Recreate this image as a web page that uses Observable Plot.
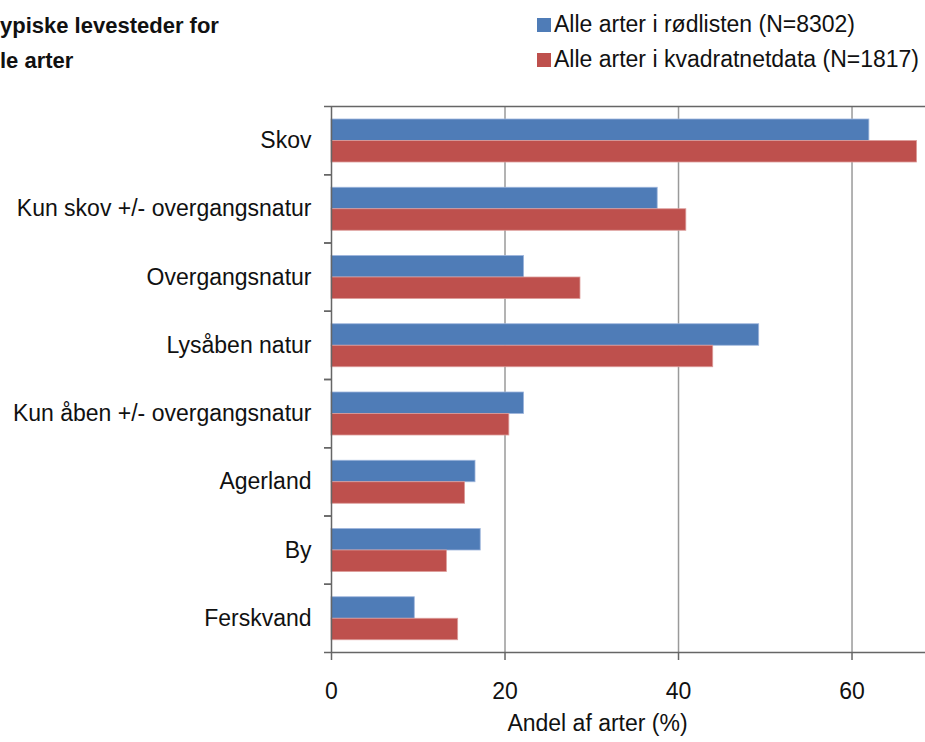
<!DOCTYPE html>
<html>
<head>
<meta charset="utf-8">
<script src="https://cdn.jsdelivr.net/npm/d3@7"></script>
<script src="https://cdn.jsdelivr.net/npm/@observablehq/plot@0.6"></script>
<style>
  html, body { margin: 0; padding: 0; background: #fff; overflow: hidden; }
  body { width: 925px; height: 742px; position: relative; font-family: "Liberation Sans", Arial, sans-serif; }
  #title { position: absolute; left: 0; top: 8px; font-weight: bold; font-size: 22px; line-height: 35px; color: #111; }
  #legend { position: absolute; left: 537px; top: 7px; font-size: 23px; line-height: 35px; color: #111; }
  .li { display: flex; align-items: center; white-space: nowrap; }
  .sw { width: 14px; height: 14px; margin-right: 3px; display: inline-block; }
  #chart { position: absolute; left: 0; top: 0; }
</style>
</head>
<body>
<div id="chart"></div>
<div id="title">ypiske levesteder for<br>le arter</div>
<div id="legend"></div>
<script>
const categories = ["Skov", "Kun skov +/- overgangsnatur", "Overgangsnatur", "Lysåben natur", "Kun åben +/- overgangsnatur", "Agerland", "By", "Ferskvand"];
const seriesNames = ["Alle arter i rødlisten (N=8302)", "Alle arter i kvadratnetdata (N=1817)"];
const roedlisten = [62.0, 37.6, 22.2, 49.3, 22.2, 16.6, 17.2, 9.6];
const kvadratnet = [67.5, 40.9, 28.7, 44.0, 20.5, 15.4, 13.3, 14.6];
const xTicks = [0, 20, 40, 60];
const xLabel = "Andel af arter (%)";
const colors = ["#4F7CB7", "#BE504D"];

const blueData = categories.map((c, i) => ({cat: c, v: roedlisten[i]}));
const redData = categories.map((c, i) => ({cat: c, v: kvadratnet[i]}));

const W = 925, H = 742, mT = 106, mB = 90, mL = 331;
const bw = (H - mT - mB) / categories.length;
const barH = 21.5, gapTop = 13;

const chart = Plot.plot({
  width: W, height: H,
  marginTop: mT, marginBottom: mB, marginLeft: mL, marginRight: 0,
  style: {fontFamily: "Liberation Sans, Arial, sans-serif", fontSize: "23px", color: "#111", background: "transparent"},
  x: {domain: [0, 68.47], ticks: xTicks},
  y: {domain: categories, padding: 0, round: false},
  marks: [
    Plot.gridX(xTicks.filter(d => d > 0), {stroke: "#9a9a9a", strokeOpacity: 1, strokeWidth: 1.5}),
    Plot.barX(blueData, {x: "v", y: "cat", fill: colors[0], stroke: "#9db5dc", strokeWidth: 0.8,
      insetTop: gapTop, insetBottom: bw - gapTop - barH}),
    Plot.barX(redData, {x: "v", y: "cat", fill: colors[1], stroke: "#dc9c9a", strokeWidth: 0.8,
      insetTop: gapTop + barH, insetBottom: bw - gapTop - 2 * barH}),
    Plot.ruleX([0], {stroke: "#666", strokeWidth: 1.5}),
    Plot.ruleY([categories[0]], {dy: -bw / 2, stroke: "#666", strokeWidth: 1.5}),
    Plot.ruleY([categories[categories.length - 1]], {dy: bw / 2, stroke: "#666", strokeWidth: 1.5}),
    Plot.axisY({tickSize: 0, tickPadding: 20, label: null, fontSize: 23, fill: "#111"}),
    Plot.axisY({tickSize: 7, tickFormat: () => "", dy: -bw / 2, stroke: "#666", strokeWidth: 1.5, label: null}),
    Plot.axisY({tickSize: 7, tickFormat: () => "", dy: bw / 2, stroke: "#666", strokeWidth: 1.5, label: null}),
    Plot.axisX(xTicks, {tickSize: 8, tickPadding: 22, stroke: "#666", strokeWidth: 1.5, fontSize: 23, fill: "#111", label: null}),
    Plot.text([xLabel], {text: d => d, frameAnchor: "bottom", dx: -31, dy: 78, fontSize: 23, fill: "#111"})
  ]
});
document.getElementById("chart").appendChild(chart);

const legend = document.getElementById("legend");
seriesNames.forEach((name, i) => {
  const row = document.createElement("div");
  row.className = "li";
  const sw = document.createElement("span");
  sw.className = "sw";
  sw.style.background = colors[i];
  row.appendChild(sw);
  row.appendChild(document.createTextNode(name));
  legend.appendChild(row);
});
</script>
</body>
</html>
